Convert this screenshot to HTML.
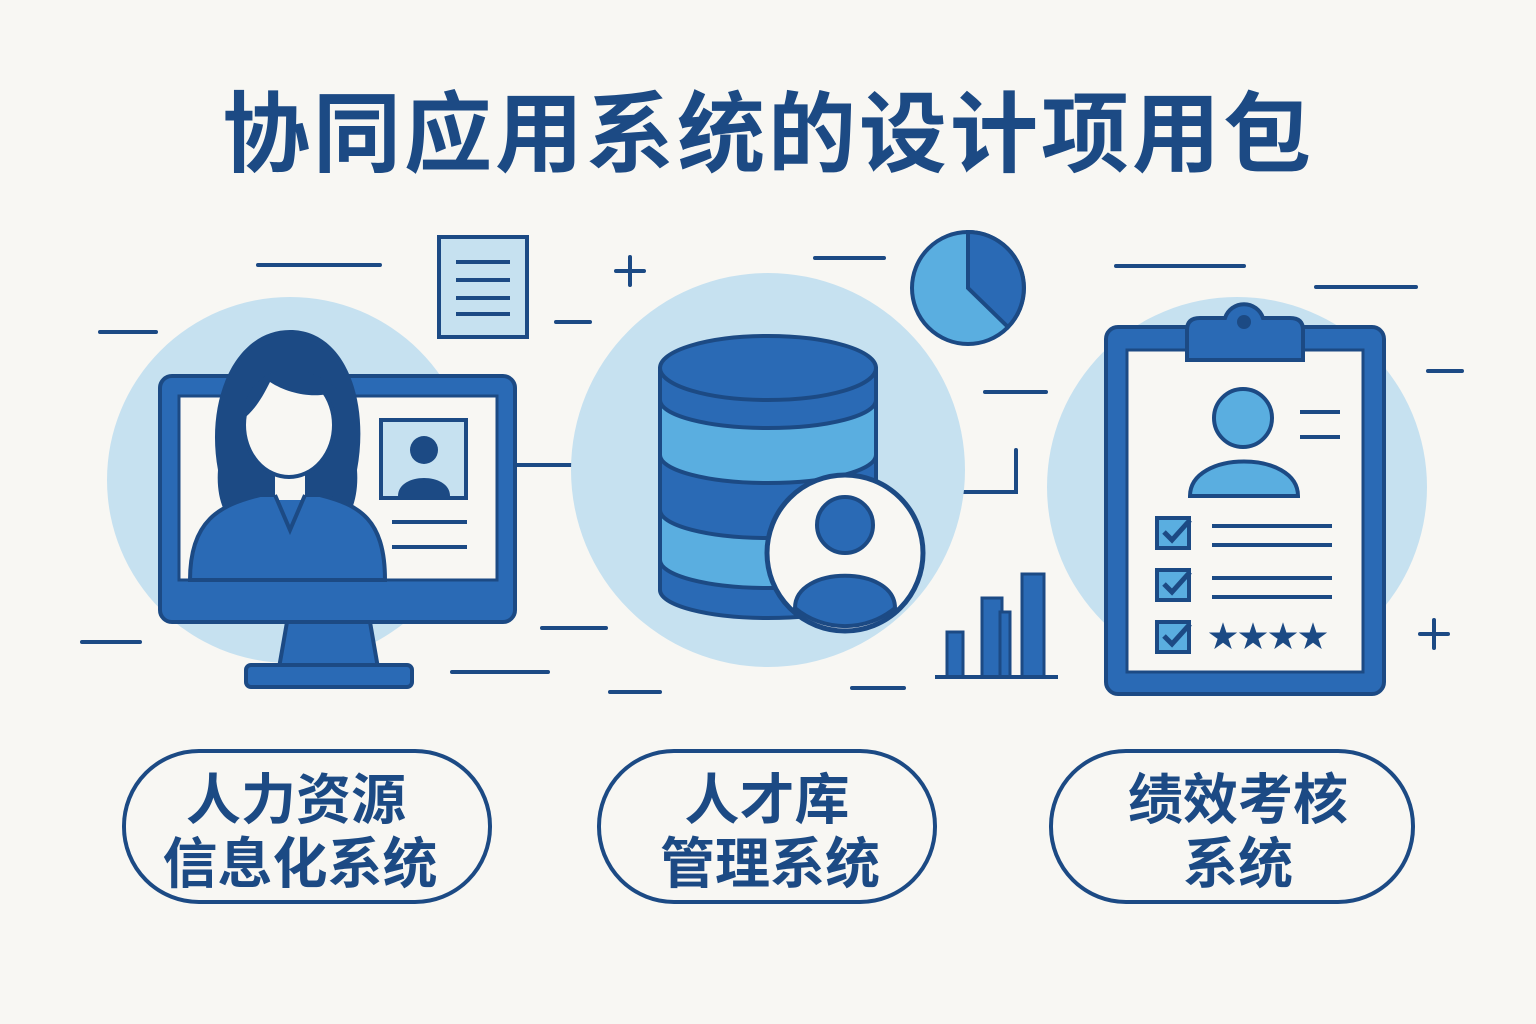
<!DOCTYPE html>
<html><head><meta charset="utf-8"><style>
html,body{margin:0;padding:0;background:#f8f7f3;}
svg{display:block}
text{font-family:"Liberation Sans","Noto Sans CJK SC",sans-serif;font-weight:bold;fill:#1c4a84;text-anchor:middle}
</style></head><body>
<svg width="1536" height="1024" viewBox="0 0 1536 1024" xmlns="http://www.w3.org/2000/svg">
<rect width="1536" height="1024" fill="#f8f7f3"/>
<text x="768" y="165" font-size="88" letter-spacing="3">协同应用系统的设计项用包</text>

<g stroke="#1c4a84" stroke-width="4" fill="none" stroke-linecap="round">
<line x1="258" y1="265" x2="380" y2="265"/><line x1="100" y1="332" x2="156" y2="332"/>
<line x1="556" y1="322" x2="590" y2="322"/><line x1="616" y1="271" x2="644" y2="271"/><line x1="630" y1="257" x2="630" y2="285"/>
<line x1="82" y1="642" x2="140" y2="642"/><line x1="542" y1="628" x2="606" y2="628"/>
<line x1="452" y1="672" x2="548" y2="672"/><line x1="610" y1="692" x2="660" y2="692"/>
<line x1="815" y1="258" x2="884" y2="258"/><line x1="985" y1="392" x2="1046" y2="392"/>
<polyline points="950,492 1016,492 1016,450"/>
<line x1="852" y1="688" x2="904" y2="688"/>
<line x1="1116" y1="266" x2="1244" y2="266"/><line x1="1316" y1="287" x2="1416" y2="287"/>
<line x1="1428" y1="371" x2="1462" y2="371"/>
<line x1="1420" y1="634" x2="1448" y2="634"/><line x1="1434" y1="620" x2="1434" y2="648"/>
<line x1="515" y1="465" x2="600" y2="465"/>
</g>
<circle cx="620" cy="465" r="5" fill="#1c4a84"/>

<!-- left -->
<circle cx="290" cy="480" r="183" fill="#c6e1f0"/>
<rect x="439" y="237" width="88" height="100" fill="#c6e1f0" stroke="#1c4a84" stroke-width="4"/>
<g stroke="#1c4a84" stroke-width="4"><line x1="456" y1="262" x2="510" y2="262"/><line x1="456" y1="280" x2="510" y2="280"/><line x1="456" y1="298" x2="510" y2="298"/><line x1="456" y1="314" x2="510" y2="314"/></g>
<path d="M287 622 L370 622 L378 668 L279 668 Z" fill="#2a6ab5" stroke="#1c4a84" stroke-width="4"/>
<rect x="246" y="665" width="166" height="22" rx="5" fill="#2a6ab5" stroke="#1c4a84" stroke-width="4"/>
<rect x="160" y="376" width="355" height="246" rx="12" fill="#2a6ab5" stroke="#1c4a84" stroke-width="4"/>
<rect x="179" y="396" width="318" height="184" fill="#f8f7f3" stroke="#1c4a84" stroke-width="3"/>
<path d="M218 470 C205 400 235 330 290 330 C345 330 370 400 357 470 C360 510 340 540 320 520 L260 520 C235 540 215 510 218 470 Z" fill="#1c4a84"/>
<path d="M190 580 C190 520 220 505 260 495 L320 495 C360 505 385 520 385 580 Z" fill="#2a6ab5" stroke="#1c4a84" stroke-width="4"/>
<rect x="275" y="455" width="30" height="45" fill="#f8f7f3"/>
<path d="M275 495 L290 530 L305 495" fill="none" stroke="#1c4a84" stroke-width="4"/>
<ellipse cx="289" cy="425" rx="45" ry="52" fill="#f8f7f3" stroke="#1c4a84" stroke-width="4"/>
<path d="M242 420 C245 365 300 355 338 390 C320 400 290 395 270 382 C262 398 255 410 242 420 Z" fill="#1c4a84"/>
<rect x="381" y="420" width="85" height="78" fill="#c6e1f0" stroke="#1c4a84" stroke-width="4"/>
<circle cx="424" cy="450" r="14" fill="#1c4a84"/>
<path d="M398 496 C398 472 450 472 450 496 Z" fill="#1c4a84"/>
<g stroke="#1c4a84" stroke-width="4"><line x1="392" y1="522" x2="467" y2="522"/><line x1="392" y1="547" x2="467" y2="547"/></g>

<!-- middle -->
<circle cx="768" cy="470" r="197" fill="#c6e1f0"/>
<circle cx="968" cy="288" r="56" fill="#5aaee0" stroke="#1c4a84" stroke-width="4"/>
<path d="M968 288 L968 232 A56 56 0 0 1 1008 327 Z" fill="#2a6ab5" stroke="#1c4a84" stroke-width="4"/>
<g stroke="#1c4a84" stroke-width="4" stroke-linejoin="round">
<path d="M660 560 L660 590 A108 28 0 0 0 876 590 L876 560 Z" fill="#2a6ab5"/>
<path d="M660 510 L660 560 A108 28 0 0 0 876 560 L876 510 Z" fill="#5aaee0"/>
<path d="M660 455 L660 510 A108 28 0 0 0 876 510 L876 455 Z" fill="#2a6ab5"/>
<path d="M660 400 L660 455 A108 28 0 0 0 876 455 L876 400 Z" fill="#5aaee0"/>
<path d="M660 368 L660 400 A108 28 0 0 0 876 400 L876 368 Z" fill="#2a6ab5"/>
<ellipse cx="768" cy="368" rx="108" ry="32" fill="#2a6ab5"/>
</g>
<circle cx="845" cy="553" r="78" fill="#f8f7f3" stroke="#1c4a84" stroke-width="5"/>
<circle cx="845" cy="525" r="28" fill="#2a6ab5" stroke="#1c4a84" stroke-width="4"/>
<path d="M795 608 C795 565 895 565 895 608 A78 78 0 0 1 795 608 Z" fill="#2a6ab5" stroke="#1c4a84" stroke-width="4"/>
<g fill="#2a6ab5" stroke="#1c4a84" stroke-width="3">
<rect x="947" y="632" width="16" height="45"/><rect x="982" y="598" width="20" height="79"/><rect x="1000" y="612" width="10" height="65"/><rect x="1022" y="574" width="22" height="103"/>
</g>
<line x1="935" y1="677" x2="1058" y2="677" stroke="#1c4a84" stroke-width="4"/>

<!-- right -->
<circle cx="1237" cy="487" r="190" fill="#c6e1f0"/>
<rect x="1106" y="327" width="278" height="367" rx="12" fill="#2a6ab5" stroke="#1c4a84" stroke-width="4"/>
<rect x="1127" y="350" width="236" height="322" fill="#f8f7f3" stroke="#1c4a84" stroke-width="3"/>
<path d="M1187 330 Q1187 318 1200 318 L1225 318 A20 20 0 0 1 1263 318 L1290 318 Q1303 318 1303 330 L1303 360 L1187 360 Z" fill="#2a6ab5" stroke="#1c4a84" stroke-width="4"/>
<circle cx="1244" cy="322" r="7" fill="#1c4a84"/>
<circle cx="1243" cy="418" r="29" fill="#5aaee0" stroke="#1c4a84" stroke-width="4"/>
<path d="M1190 496 C1190 450 1298 450 1298 496 Z" fill="#5aaee0" stroke="#1c4a84" stroke-width="4"/>
<g stroke="#1c4a84" stroke-width="4">
<line x1="1300" y1="412" x2="1340" y2="412"/><line x1="1300" y1="437" x2="1340" y2="437"/>
<line x1="1212" y1="526" x2="1332" y2="526"/><line x1="1212" y1="545" x2="1332" y2="545"/>
<line x1="1212" y1="578" x2="1332" y2="578"/><line x1="1212" y1="597" x2="1332" y2="597"/>
</g>
<g fill="#5aaee0" stroke="#1c4a84" stroke-width="4">
<rect x="1157" y="518" width="32" height="30"/><rect x="1157" y="570" width="32" height="30"/><rect x="1157" y="622" width="32" height="30"/>
</g>
<g fill="none" stroke="#1c4a84" stroke-width="5"><path d="M1164 532 l8 8 l18 -20"/><path d="M1164 584 l8 8 l18 -20"/><path d="M1164 636 l8 8 l18 -20"/></g>
<text x="1268" y="647" font-size="30" style="fill:#1c4a84">★★★★</text>

<!-- pills -->
<g fill="#f8f7f3" stroke="#1c4a84" stroke-width="4">
<rect x="124" y="751" width="366" height="151" rx="75"/>
<rect x="599" y="751" width="336" height="151" rx="75"/>
<rect x="1051" y="751" width="362" height="151" rx="75"/>
</g>
<g font-size="55">
<text x="296" y="819">人力资源</text><text x="300" y="883">信息化系统</text>
<text x="767" y="819">人才库</text><text x="770" y="883">管理系统</text>
<text x="1238" y="819">绩效考核</text><text x="1238" y="883">系统</text>
</g>
</svg>
</body></html>
